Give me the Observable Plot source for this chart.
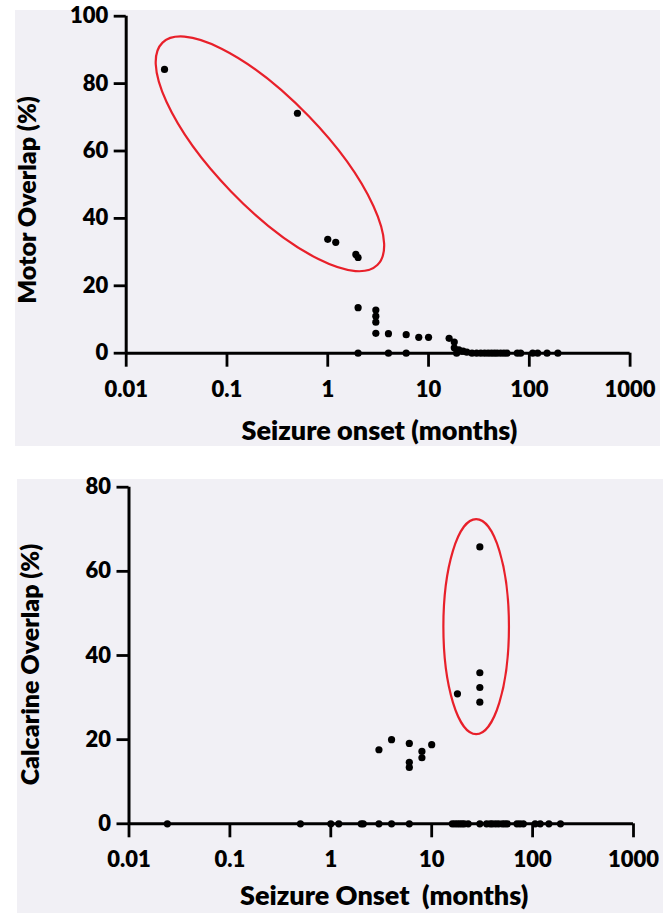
<!DOCTYPE html>
<html>
<head>
<meta charset="utf-8">
<script src="https://cdn.jsdelivr.net/npm/d3@7"></script>
<script src="https://cdn.jsdelivr.net/npm/@observablehq/plot@0.6"></script>
<style>
  body { margin: 0; background: #ffffff; }
  #wrap { position: relative; width: 672px; height: 913px; overflow: hidden; font-family: Lato, sans-serif; }
  .bg { position: absolute; background: #f1f0f5; }
  .panel { position: absolute; left: 0; }
  .panel svg { overflow: visible; display: block; }
</style>
</head>
<body>
<div id="wrap">
  <div class="bg" style="left:15px;top:10px;width:645px;height:436px"></div>
  <div class="bg" style="left:17px;top:479px;width:646px;height:434px"></div>
  <div class="panel" id="p1" style="top:0px"></div>
  <div class="panel" id="p2" style="top:460px"></div>
</div>
<script>
// ---------- data ----------
const xTicks = [0.01, 0.1, 1, 10, 100, 1000];
const motorTicks = [0, 20, 40, 60, 80, 100];
const calcarineTicks = [0, 20, 40, 60, 80];

// Top panel: Motor overlap vs seizure onset (months)
const motorOnset = [
  0.024, 0.5, 1, 1.2, 1.9, 2, 2, 2,
  3, 3, 3, 3, 4, 4, 6, 6, 8, 10,
  16, 18, 18, 19, 20, 22, 24,
  27, 30, 33, 36, 39, 42, 45, 48, 52, 56, 60,
  76, 82, 108, 121, 150, 192
];
const motorOverlap = [
  84.2, 71.2, 33.8, 32.9, 29.3, 28.4, 13.5, 0,
  12.8, 11.0, 9.2, 5.9, 5.8, 0, 5.5, 0, 4.7, 4.7,
  4.4, 3.3, 1.6, 0, 1.0, 0.6, 0.3,
  0, 0, 0, 0, 0, 0, 0, 0, 0, 0, 0,
  0, 0, 0, 0, 0, 0
];

// Bottom panel: Calcarine overlap vs seizure onset (months)
const calcarineOnset = [
  0.024, 0.5, 1, 1.2, 2, 2.1, 3, 4, 6,
  3, 4, 6, 6, 6, 8, 8, 10,
  18, 30, 30, 30, 30,
  16, 17, 18, 19, 20, 21, 23, 30, 35, 38, 40, 43, 46, 50, 53, 56,
  70, 75, 81, 106, 119, 145, 189
];
const calcarineOverlap = [
  0, 0, 0, 0, 0, 0, 0, 0, 0,
  17.6, 20.0, 19.1, 14.6, 13.4, 17.2, 15.7, 18.8,
  30.9, 65.8, 35.9, 32.4, 28.9,
  0, 0, 0, 0, 0, 0, 0, 0, 0, 0, 0, 0, 0, 0, 0, 0,
  0, 0, 0, 0, 0, 0, 0
];

// highlight ellipses: major-axis endpoints in data units, minor/major ratio
const motorEllipse = { x1: 0.0232, y1: 92.0, x2: 3.14, y2: 26.0, ratio: 0.35 };
const calcarineEllipse = { x1: 27.9, y1: 72.3, x2: 27.9, y2: 21.2, ratio: 0.305 };

// ---------- drawing ----------
function ellipseMark(e) {
  return (index, scales) => {
    const x1 = scales.x(e.x1), y1 = scales.y(e.y1);
    const x2 = scales.x(e.x2), y2 = scales.y(e.y2);
    const cx = (x1 + x2) / 2, cy = (y1 + y2) / 2;
    const a = Math.hypot(x2 - x1, y2 - y1) / 2;
    const ang = Math.atan2(y2 - y1, x2 - x1) * 180 / Math.PI;
    const el = document.createElementNS("http://www.w3.org/2000/svg", "ellipse");
    el.setAttribute("cx", cx);
    el.setAttribute("cy", cy);
    el.setAttribute("rx", a);
    el.setAttribute("ry", a * e.ratio);
    el.setAttribute("transform", `rotate(${ang} ${cx} ${cy})`);
    el.setAttribute("fill", "none");
    el.setAttribute("stroke", "#e8202a");
    el.setAttribute("stroke-width", 2.2);
    return el;
  };
}

function panel(o) {
  const data = o.onset.map((x, i) => ({ x, y: o.overlap[i] }));
  const font = { fontFamily: "Lato, sans-serif", fontWeight: 800, fill: "#000" };
  return Plot.plot({
    width: 672,
    height: o.height,
    marginTop: o.mt, marginBottom: o.mb, marginLeft: o.ml, marginRight: o.mr,
    style: { background: "transparent", overflow: "visible", fontFamily: "Lato, sans-serif" },
    x: { type: "log", domain: [0.01, 1000] },
    y: { domain: [0, o.yMax] },
    marks: [
      Plot.axisX({ ticks: xTicks, tickFormat: d => String(d), tickSize: 14, tickPadding: 14,
        strokeWidth: 2.8, stroke: "#000", fontSize: 22, label: null, ...font }),
      Plot.axisY({ ticks: o.yTicks, tickFormat: d => String(d), tickSize: 12, tickPadding: 6,
        strokeWidth: 2.8, stroke: "#000", fontSize: 22, label: null, ...font }),
      Plot.ruleX([0.01], { y1: 0, y2: o.yMax, stroke: "#000", strokeWidth: 3 }),
      Plot.ruleY([0], { x1: 0.01, x2: 1000, stroke: "#000", strokeWidth: 3 }),
      ellipseMark(o.ellipse),
      Plot.dot(data, { x: "x", y: "y", r: 3.6, fill: "#000", stroke: null }),
      Plot.text([o.xLabel], { frameAnchor: "bottom", lineAnchor: "middle", textAnchor: "middle",
        dx: o.xdx, dy: o.xdy, fontSize: 27, ...font }),
      Plot.text([o.yLabel], { frameAnchor: "left", lineAnchor: "middle", textAnchor: "middle", rotate: -90,
        dx: o.ydx, dy: o.ydy, fontSize: 25, ...font })
    ]
  });
}

document.getElementById("p1").append(panel({
  onset: motorOnset, overlap: motorOverlap, yMax: 100, yTicks: motorTicks,
  height: 460, mt: 15.7, mb: 107.3, ml: 125.7, mr: 42.4,
  ellipse: motorEllipse,
  xLabel: "Seizure onset (months)", xdx: 1.3, xdy: 78,
  yLabel: "Motor Overlap (%)", ydx: -98.7, ydy: 15.3
}));

document.getElementById("p2").append(panel({
  onset: calcarineOnset, overlap: calcarineOverlap, yMax: 80, yTicks: calcarineTicks,
  height: 453, mt: 26.7, mb: 89.7, ml: 128.5, mr: 39,
  ellipse: calcarineEllipse,
  xLabel: "Seizure Onset  (months)", xdx: 2.9, xdy: 73,
  yLabel: "Calcarine Overlap (%)", ydx: -98.5, ydy: 9
}));
</script>
</body>
</html>
